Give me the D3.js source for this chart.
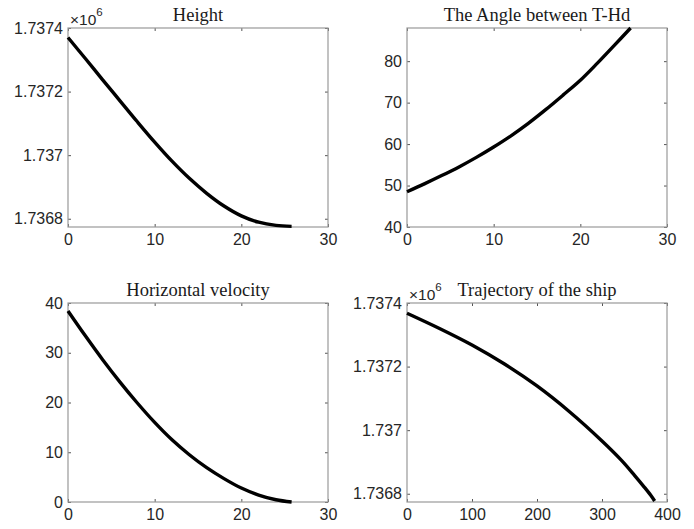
<!DOCTYPE html>
<html>
<head>
<meta charset="utf-8">
<script src="https://cdn.jsdelivr.net/npm/d3@7"></script>
<style>
    body { margin: 0; background: #fff; }
    svg { display: block; }
</style>
</head>
<body>
<div id="chart"></div>
<script>
// SVG parameter
var svgWidth = 694;
var svgHeight = 529;

// Time samples (s) shared by the three time plots
var timeSteps = [0, 2, 4, 6, 8, 10, 12, 14, 16, 18, 20, 22, 24, 25.8];

// Height (m)
var heightValues = [1737370, 1737304, 1737237, 1737171, 1737105, 1737041, 1736981,
    1736927, 1736880, 1736840, 1736809, 1736789, 1736779, 1736776];

// Angle between T-Hd (deg)
var angleValues = [48.5, 50.4, 52.4, 54.5, 56.8, 59.3, 62.0, 65.0, 68.3, 71.8, 75.4, 79.6, 84.0, 88.0];

// Horizontal velocity (m/s)
var velocityValues = [38.4, 33.4, 28.6, 24.1, 19.9, 16.0, 12.5, 9.5, 6.9, 4.7, 2.8, 1.4, 0.45, 0];

// Trajectory of the ship: horizontal range (m) and height (m)
var trajRange = [0, 50, 100, 150, 200, 250, 300, 330, 350, 365, 375, 381];
var trajHeight = [1737368, 1737320, 1737268, 1737208, 1737139, 1737058, 1736966,
    1736905, 1736858, 1736821, 1736795, 1736777];

// Tick labels
var timeTicks = [0, 10, 20, 30];
var rangeTicks = [0, 100, 200, 300, 400];
var heightTicks = [1736800, 1737000, 1737200, 1737400];
var angleTicks = [40, 50, 60, 70, 80];
var velocityTicks = [0, 10, 20, 30, 40];

var titles = ["Height", "The Angle between T-Hd", "Horizontal velocity", "Trajectory of the ship"];

// Panel boxes
var cols = [68, 407];
var rows = [28, 303];
var boxW = 260;
var boxH = 199;

var svg = d3.select("#chart")
    .append("svg")
    .attr("width", svgWidth)
    .attr("height", svgHeight);

var fmtHeight = d => String(+(d / 1e6).toFixed(4));

var panels = [
    {col: 0, row: 0, title: titles[0], xs: timeSteps, ys: heightValues,
        xDomain: [0, 30], yDomain: [1736774, 1737400], xTicks: timeTicks, yTicks: heightTicks,
        yFormat: fmtHeight, exp: true},
    {col: 1, row: 0, title: titles[1], xs: timeSteps, ys: angleValues,
        xDomain: [0, 30], yDomain: [40, 88], xTicks: timeTicks, yTicks: angleTicks,
        yFormat: d3.format("d"), exp: false},
    {col: 0, row: 1, title: titles[2], xs: timeSteps, ys: velocityValues,
        xDomain: [0, 30], yDomain: [0, 40], xTicks: timeTicks, yTicks: velocityTicks,
        yFormat: d3.format("d"), exp: false},
    {col: 1, row: 1, title: titles[3], xs: trajRange, ys: trajHeight,
        xDomain: [0, 400], yDomain: [1736774, 1737400], xTicks: rangeTicks, yTicks: heightTicks,
        yFormat: fmtHeight, exp: true}
];

drawPanel = (p) => {
    var g = svg.append("g")
        .attr("transform", `translate(${cols[p.col]}, ${rows[p.row]})`);

    var x = d3.scaleLinear().domain(p.xDomain).range([0, boxW]);
    var y = d3.scaleLinear().domain(p.yDomain).range([boxH, 0]);
    var yTickVals = p.yTicks.filter(v => v >= p.yDomain[0] && v <= p.yDomain[1] + 1);

    // axes with inward ticks, mirrored on top and right
    var bottom = g.append("g")
        .attr("transform", `translate(0, ${boxH})`)
        .call(d3.axisBottom(x).tickValues(p.xTicks).tickSizeInner(-3).tickSizeOuter(0).tickPadding(7));
    var left = g.append("g")
        .call(d3.axisLeft(y).tickValues(yTickVals)
            .tickFormat(p.yFormat).tickSizeInner(-3).tickSizeOuter(0).tickPadding(5));
    var top = g.append("g")
        .call(d3.axisTop(x).tickValues(p.xTicks).tickFormat("").tickSizeInner(-3).tickSizeOuter(0));
    var right = g.append("g")
        .attr("transform", `translate(${boxW}, 0)`)
        .call(d3.axisRight(y).tickValues(yTickVals)
            .tickFormat("").tickSizeInner(-3).tickSizeOuter(0));

    [bottom, left, top, right].forEach(a => {
        a.select(".domain").remove();
        a.selectAll("line").attr("stroke", "#555");
        a.selectAll("text")
            .attr("font-family", "'Liberation Sans', Arial, sans-serif")
            .attr("font-size", 16)
            .attr("fill", "#262626");
    });

    g.append("rect")
        .attr("width", boxW)
        .attr("height", boxH)
        .attr("fill", "none")
        .attr("stroke", "#999")
        .attr("stroke-width", 1.2);

    var pts = p.xs.map((v, i) => [v, p.ys[i]]);
    g.append("path")
        .datum(pts)
        .attr("fill", "none")
        .attr("stroke", "#000")
        .attr("stroke-width", 3.4)
        .attr("d", d3.line().x(d => x(d[0])).y(d => y(d[1])).curve(d3.curveCatmullRom.alpha(0.5)));

    g.append("text")
        .attr("x", boxW / 2)
        .attr("y", -7)
        .attr("text-anchor", "middle")
        .attr("font-family", "'Liberation Serif', 'Times New Roman', serif")
        .attr("font-size", 18.5)
        .attr("fill", "#1a1a1a")
        .text(p.title);

    if (p.exp) {
        var t = g.append("text")
            .attr("x", 2)
            .attr("y", -3)
            .attr("font-family", "'Liberation Sans', Arial, sans-serif")
            .attr("font-size", 15.5)
            .attr("fill", "#262626");
        t.append("tspan").text("×10");
        t.append("tspan").attr("dy", -9).attr("font-size", 11.5).text("6");
    }
}

panels.forEach(drawPanel);
</script>
</body>
</html>
